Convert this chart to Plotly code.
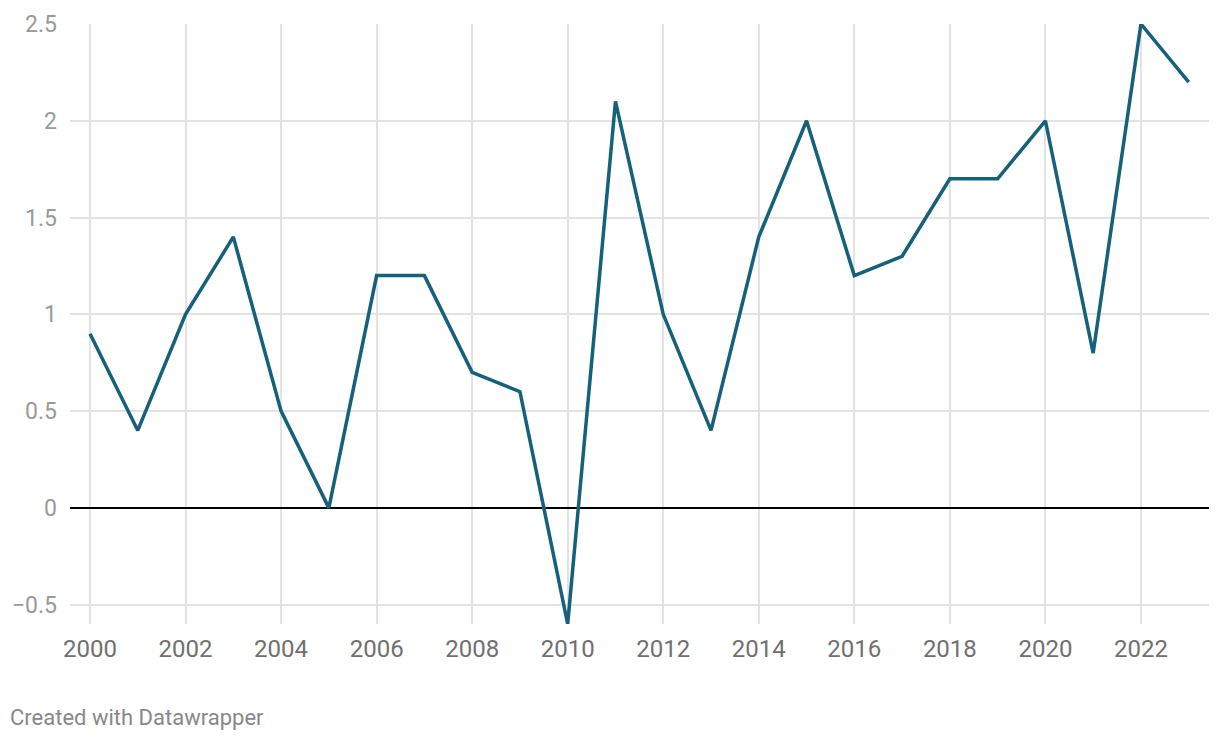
import plotly.graph_objects as go

years = list(range(2000, 2024))
values = [0.9, 0.4, 1.0, 1.4, 0.5, 0.0, 1.2, 1.2, 0.7, 0.6, -0.6, 2.1,
          1.0, 0.4, 1.4, 2.0, 1.2, 1.3, 1.7, 1.7, 2.0, 0.8, 2.5, 2.2]
x_ticks = list(range(2000, 2024, 2))
y_ticks = [-0.5, 0, 0.5, 1, 1.5, 2, 2.5]
y_tick_text = ["\u22120.5", "0", "0.5", "1", "1.5", "2", "2.5"]

W, H = 1220, 740
L, R, T, B = 70, 11, 24, 116

fig = go.Figure()
fig.add_trace(go.Scatter(
    x=years, y=values, mode="lines",
    line=dict(color="#15607a", width=3.5),
    hoverinfo="skip",
))

fig.update_layout(
    width=W, height=H,
    margin=dict(l=L, r=R, t=T, b=B, autoexpand=False),
    paper_bgcolor="white", plot_bgcolor="white",
    showlegend=False,
    font=dict(family="Roboto", color="#999999"),
    xaxis=dict(
        range=[1999.581, 2023.425],
        tickvals=x_ticks, ticktext=[str(v) for v in x_ticks],
        showgrid=True, gridcolor="#e3e3e3", gridwidth=2,
        zeroline=False, showline=False, ticks="",
        tickfont=dict(size=24, color="#707070"),
        ticklabelstandoff=8,
    ),
    yaxis=dict(
        range=[-0.6, 2.5],
        tickvals=y_ticks, ticktext=y_tick_text,
        showgrid=True, gridcolor="#e3e3e3", gridwidth=2,
        zeroline=True, zerolinecolor="#000000", zerolinewidth=1.5,
        showline=False, ticks="",
        tickfont=dict(size=23, color="#9a9a9a"),
        ticklabelstandoff=12,
    ),
)

fig.add_annotation(
    text="Created with Datawrapper",
    xref="paper", yref="paper",
    x=(8 - L) / (W - L - R), y=-(717 - (H - B)) / (H - T - B),
    xanchor="left", yanchor="middle", showarrow=False,
    font=dict(family="Roboto", size=22, color="#888888"),
)

fig.write_html(
    "out.html",
    config={"displayModeBar": False},
    post_script="document.body.style.margin='0';document.body.style.overflow='hidden';",
)
